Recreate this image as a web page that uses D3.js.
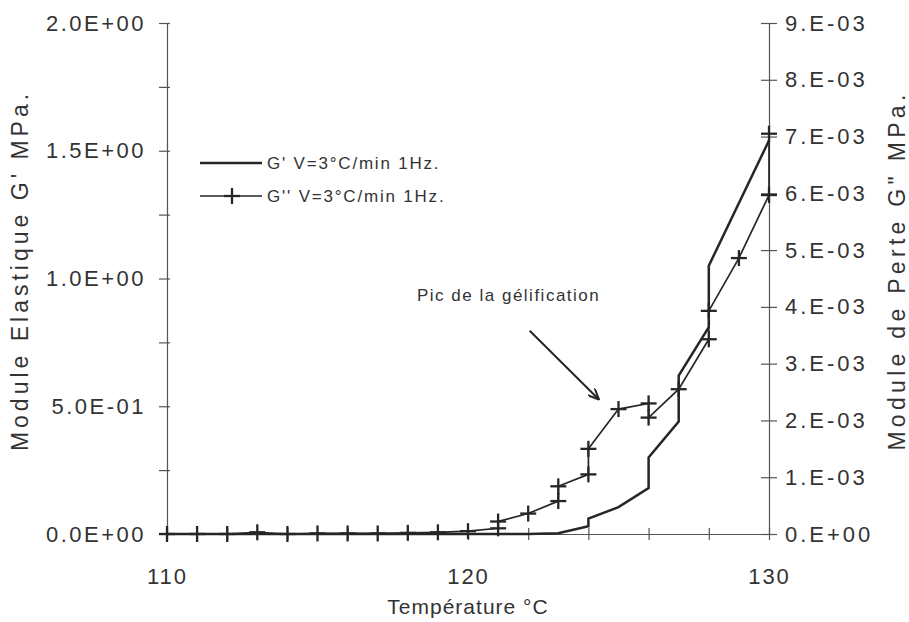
<!DOCTYPE html>
<html><head><meta charset="utf-8">
<script src="https://cdn.jsdelivr.net/npm/d3@7"></script>
<style>body{margin:0;background:#fff}svg{display:block}</style>
</head><body>
<svg id="c" width="909" height="622"></svg>
<script>
// G' (left axis, MPa) — solid line
const gpTemp = [110,111,112,113,114,115,116,117,118,119,120,121,122,123,124,124,125,126,126,127,127,128,128,130];
const gpVal  = [0,0,0,0,0,0,0,0,0,0,0,0,0,0.003,0.03,0.06,0.105,0.18,0.30,0.44,0.62,0.81,1.05,1.54];
// G'' (right axis, MPa) — line with + markers
const gsTemp = [110,111,112,113,114,115,116,117,118,119,120,121,121,122,123,123,124,124,125,126,126,127,128,128,129,130,130];
const gsVal  = [0,0,0,0.00003,0,0.00001,0.00001,0.00001,0.00002,0.00003,0.00005,0.0001,0.00022,0.00036,0.00058,0.00084,0.00105,0.0015,0.0022,0.0023,0.00205,0.00255,0.00343,0.00393,0.00486,0.00597,0.00705];
const xTicks = [110,112,114,116,118,120,122,124,126,128,130];
const xLabels = [110,120,130];
const yLeftTicks = [0,0.25,0.5,0.75,1,1.25,1.5,1.75,2];
const yLeftLabels = [0,0.5,1,1.5,2];
const yRightTicks = [0,0.001,0.002,0.003,0.004,0.005,0.006,0.007,0.008,0.009];
const legendLabels = ["G' V=3°C/min 1Hz.", "G'' V=3°C/min 1Hz."];
const annText = "Pic de la gélification";
const annTextPos = [121.35, 0.0041];
const arrowFrom = [122.05, 0.00358];
const arrowTo = [124.35, 0.00237];

const svg = d3.select('#c');
const L = 167, R = 769, T = 23, B = 534;
const x = d3.scaleLinear().domain([110,130]).range([L,R]);
const yL = d3.scaleLinear().domain([0,2]).range([B,T]);
const yR = d3.scaleLinear().domain([0,0.009]).range([B,T]);
const ink = '#262626', axisCol = '#555', txt = '#333';
const font = "'Liberation Sans', Arial, sans-serif";

function fmtL(d){const [m,e]=d.toExponential(1).split('e');const n=+e;return m+'E'+(n<0?'-':'+')+String(Math.abs(n)).padStart(2,'0');}
function fmtR(d){const [m,e]=d.toExponential(0).split('e');const n=+e;return m+'.E'+(n<0?'-':'+')+String(Math.abs(n)).padStart(2,'0');}

function styleAxis(g, ls){
  g.select('.domain').attr('stroke',axisCol).attr('stroke-width',1.2);
  g.selectAll('.tick line').attr('stroke',axisCol).attr('stroke-width',1.2);
  g.selectAll('.tick text').attr('fill',txt).attr('font-family',font).attr('font-size',22).attr('letter-spacing',ls);
}
// bottom axis
const gx = svg.append('g').attr('transform',`translate(0,${B})`)
  .call(d3.axisBottom(x).tickValues(xTicks).tickSize(6).tickPadding(28).tickSizeOuter(0)
  .tickFormat(d=>xLabels.includes(d)?d:''));
styleAxis(gx,'2px'); gx.selectAll('.tick line').attr('y1',-6);
// left axis
const gl = svg.append('g').attr('transform',`translate(${L},0)`)
  .call(d3.axisLeft(yL).tickValues(yLeftTicks).tickSize(8).tickPadding(13).tickSizeOuter(0)
  .tickFormat(d=>yLeftLabels.includes(d)?fmtL(d):''));
styleAxis(gl,'2.5px'); gl.selectAll('.tick line').attr('x1',3);
// right axis
const gr = svg.append('g').attr('transform',`translate(${R},0)`)
  .call(d3.axisRight(yR).tickValues(yRightTicks).tickSize(8).tickPadding(8).tickSizeOuter(0)
  .tickFormat(fmtR));
styleAxis(gr,'3px'); gr.selectAll('.tick line').attr('x1',-8);
svg.selectAll('.domain').attr('fill','none');

// axis titles
svg.append('text').attr('x',x(120)).attr('y',614).attr('text-anchor','middle')
  .attr('font-family',font).attr('font-size',21).attr('letter-spacing','1px').attr('fill',txt).text('Température °C');
svg.append('text').attr('transform',`translate(28,${(T+B)/2-8}) rotate(-90)`).attr('text-anchor','middle')
  .attr('font-family',font).attr('font-size',23).attr('letter-spacing','4px').attr('fill',txt).text("Module Elastique G' MPa.");
svg.append('text').attr('transform',`translate(905,${(T+B)/2-8}) rotate(-90)`).attr('text-anchor','middle')
  .attr('font-family',font).attr('font-size',23).attr('letter-spacing','4.3px').attr('fill',txt).text('Module de Perte G" MPa.');

// series
const gpData = gpTemp.map((t,i)=>[t,gpVal[i]]);
const gsData = gsTemp.map((t,i)=>[t,gsVal[i]]);
svg.append('path').datum(gpData).attr('fill','none').attr('stroke',ink).attr('stroke-width',2.5)
  .attr('d',d3.line().x(d=>x(d[0])).y(d=>yL(d[1])));
svg.append('path').datum(gsData).attr('fill','none').attr('stroke',ink).attr('stroke-width',1.7)
  .attr('d',d3.line().x(d=>x(d[0])).y(d=>yR(d[1])));
const plus = (g,cx,cy)=>{
  g.append('line').attr('x1',cx-8).attr('x2',cx+8).attr('y1',cy).attr('y2',cy);
  g.append('line').attr('x1',cx).attr('x2',cx).attr('y1',cy-8).attr('y2',cy+8);
};
const mk = svg.append('g').attr('stroke',ink).attr('stroke-width',2.3);
gsData.forEach(d=>plus(mk,x(d[0]),yR(d[1])));

// legend
const lg = svg.append('g');
lg.append('line').attr('x1',200).attr('x2',262).attr('y1',163).attr('y2',163).attr('stroke',ink).attr('stroke-width',2.5);
lg.append('line').attr('x1',200).attr('x2',262).attr('y1',196).attr('y2',196).attr('stroke',ink).attr('stroke-width',1.7);
const lm = lg.append('g').attr('stroke',ink).attr('stroke-width',2.3); plus(lm,232,196);
legendLabels.forEach((s,i)=>lg.append('text').attr('x',267).attr('y',169+i*33).attr('font-family',font)
  .attr('font-size',17).attr('letter-spacing','1.8px').attr('fill',txt).text(s));

// annotation
svg.append('defs').append('marker').attr('id','ah').attr('viewBox','0 0 12 10').attr('refX',11).attr('refY',5)
  .attr('markerWidth',12).attr('markerHeight',10).attr('markerUnits','userSpaceOnUse').attr('orient','auto')
  .append('path').attr('d','M0,0 L11,5 L0,10').attr('fill','none').attr('stroke',ink).attr('stroke-width',2);
svg.append('line').attr('x1',x(arrowFrom[0])).attr('y1',yR(arrowFrom[1])).attr('x2',x(arrowTo[0])).attr('y2',yR(arrowTo[1]))
  .attr('stroke',ink).attr('stroke-width',2).attr('marker-end','url(#ah)');
svg.append('text').attr('x',x(annTextPos[0])).attr('y',yR(annTextPos[1])).attr('text-anchor','middle')
  .attr('font-family',font).attr('font-size',17).attr('letter-spacing','1.5px').attr('fill',txt).text(annText);
</script>
</body></html>
